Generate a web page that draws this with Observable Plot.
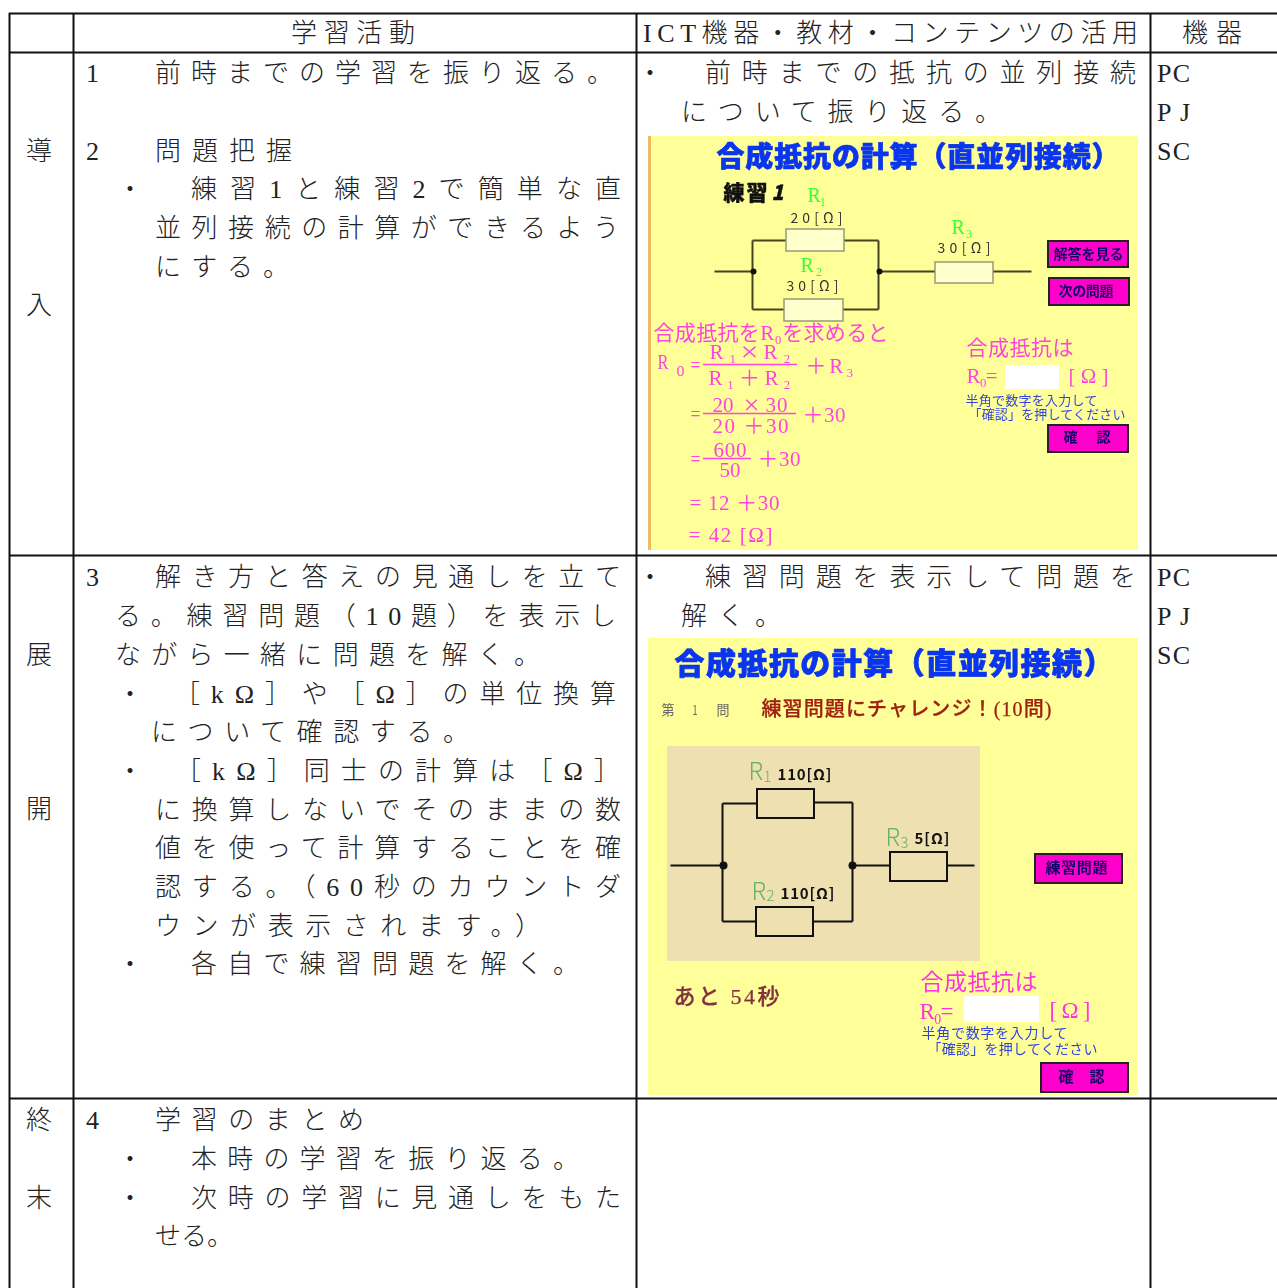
<!DOCTYPE html>
<html><head><meta charset="utf-8">
<script src="https://cdn.jsdelivr.net/npm/d3@7"></script>
<script src="https://cdn.jsdelivr.net/npm/@observablehq/plot@0.6"></script>
<style>
html,body{margin:0;padding:0;background:#fff}
svg{display:block}
.shot{filter:blur(.45px)}
</style></head><body><div id="chart"></div>
<script>
const SERIF='"Liberation Serif","Noto Sans CJK JP",serif';
const SANS='"Noto Sans CJK JP",sans-serif';

// ---- table content ----
const headerTexts=["学習活動","ICT機器・教材・コンテンツの活用","機器"];
const stageTexts=["導","入","展","開","終","末"];
const activityTexts=[
"1","前時までの学習を振り返る。","2","問題把握","・","練習1と練習2で簡単な直","並列接続の計算ができるよう","にする。",
"3","解き方と答えの見通しを立て","る。練習問題（10題）を表示し","ながら一緒に問題を解く。","・","［kΩ］や［Ω］の単位換算","について確認する。","・","［kΩ］同士の計算は［Ω］","に換算しないでそのままの数","値を使って計算することを確","認する。（60秒のカウントダ","ウンが表示されます。）","・","各自で練習問題を解く。",
"4","学習のまとめ","・","本時の学習を振り返る。","・","次時の学習に見通しをもた","せる。"];
const ictTexts=["・","前時までの抵抗の並列接続","について振り返る。","・","練習問題を表示して問題を","解く。"];
const deviceTexts=["PC","PJ","SC","PC","PJ","SC"];

// ---- table layout: [x0, x1, y] of each text above (x1 null = natural width) ----
const gridX=[9,73,636,1150];
const gridY=[13,52,555,1098];
const headerPlace=[[292,416,33],[644,1139,33],[1183,1243,33]];
const stagePlace=[[27,null,151],[27,null,305],[27,null,655],[27,null,809],[27,null,1120],[27,null,1198]];
const activityPlace=[
[87,null,73],[156,614,73],[87,null,151],[156,293,151],[118,null,189],[192,622,189],[156,620,228],[156,290,267],
[87,null,577],[156,622,577],[116,617,616],[116,541,655],[118,null,694],[175,617,694],[152,470,732],[118,null,771],[176,621,771],[156,622,810],[156,622,848],[156,622,887],[156,542,926],[118,null,964],[192,580,964],
[87,null,1120],[156,365,1120],[118,null,1159],[192,580,1159],[118,null,1198],[192,622,1198],[156,234,1236]];
const ictPlace=[[638,null,73],[706,1137,73],[682,1002,112],[638,null,577],[706,1137,577],[682,782,616]];
const devicePlace=[[1158,1191,73],[1158,1191,112],[1158,1191,151],[1158,1191,577],[1158,1191,616],[1158,1191,655]];

// ---- first screenshot (series-parallel exercise) ----
const s1Bg=[[648,136,1138,550,"#ffff99"],[648,136,651,550,"#eebb66"],[1005,365,1059,389,"#ffffff"]];
const s1Title=[["合成抵抗の計算（直並列接続）",716,1119,158]];
const s1Wires=[[714,271,752,271],[752,240,752,309],[752,240,878,240],[752,309,878,309],[878,240,878,309],[878,271,1031,271]];
const s1Nodes=[[753,271],[879,271]];
const s1Resistors=[[786,229,844,251],[784,299,843,321],[935,262,993,283]];
const s1Green=[["R₁",807,826,195],["R₂",800,822,265],["R₃",951,972,227]];
const s1Values=[["20[Ω]",790,842,218],["30[Ω]",786,838,286],["30[Ω]",937,990,248]];
const s1Buttons=[[1048,241,1128,267],[1049,278,1129,305],[1048,425,1128,452]];
const s1ButtonText=[["解答を見る",1053,1123,254],["次の問題",1058,1113,291],["確　認",1063,1110,437]];
const s1Pink=[["合成抵抗をR₀を求めると",653,888,333],["R",657,668,362],["o",676,684,369],["=",690,700,365],["R₁",709,736,352],["R₂",763,790,352],["R₁＋R₂",708,790,378],["＋R₃",805,853,366],
["=",690,700,414],["20",712,733,405],["30",765,787,405],["20 ＋30",712,788,426],["＋30",802,845,415],
["=",690,700,459],["600",713,746,450],["50",719,740,470],["＋30",757,800,459],
["= 12 ＋30",689,779,503],["= 42 [Ω]",688,772,535],
["合成抵抗は",966,1073,348],["R₀=",966,997,376],["[ Ω ]",1068,1108,376]];
const s1Times=[["×",740,758,352],["×",743,759,405]];
const s1Bars=[[703,797,364],[703,796,413],[703,751,458]];
const s1Blue=[["半角で数字を入力して",965,1097,400],["「確認」を押してください",968,1125,414]];
const s1Exercise=[["練習",723,767,193]];
const s1ExerciseNo=[["1",771,783,193]];

// ---- second screenshot (practice question) ----
const s2Bg=[[648,638,1138,1095,"#ffff99"],[667,746,980,961,"#eee0b0"],[964,996,1039,1022,"#ffffff"]];
const s2Title=[["合成抵抗の計算（直並列接続）",674,1113,664]];
const s2Question=[["第",661,674,710],["1",692,697,710],["問",716,729,710]];
const s2Prompt=[["練習問題にチャレンジ！(10問)",761,1051,709]];
const s2Wires=[[670,865,722,865],[722,803,757,803],[814,802,852,802],[722,803,722,921],[852,802,852,921],[722,921,756,921],[813,921,852,921],[852,865,890,865],[947,865,974,865]];
const s2Nodes=[[723,865],[852,865]];
const s2Resistors=[[757,789,814,818],[756,907,813,936],[890,852,947,881]];
const s2Green=[["R",748,null,772],["R",751,null,892],["R",885,null,838]];
const s2GreenSub=[["1",763,null,777],["2",766,null,896],["3",900,null,843]];
const s2Values=[["110[Ω]",777,831,775],["110[Ω]",780,834,894],["5[Ω]",914,949,839]];
const s2Timer=[["あと 54秒",673,779,996]];
const s2Pink=[["合成抵抗は",920,1037,982],["R₀=",919,953,1011],["[ Ω ]",1049,1090,1010]];
const s2Blue=[["半角で数字を入力して",921,1067,1033],["「確認」を押してください",927,1097,1049]];
const s2Buttons=[[1035,854,1122,883],[1041,1063,1128,1092]];
const s2ButtonText=[["練習問題",1045,1107,868],["確　認",1058,1104,1077]];

// ---- helpers ----
const fits=[];
function textMark(rows,opts){
  const cls="fit"+fits.length;
  fits.push({cls,rows});
  const {shot,...rest}=opts;
  return Plot.text(rows,{x:d=>d[1],y:d=>d[3],text:d=>d[0],textAnchor:"start",lineAnchor:"middle",className:cls+(shot?" shot":""),...rest});
}
const zip=(texts,place)=>texts.map((t,i)=>[t,...place[i]]);
const rects=(rows,o)=>Plot.rect(rows,{x1:d=>d[0],y1:d=>d[1],x2:d=>d[2],y2:d=>d[3],className:"shot",...o});
const wires=(rows,o)=>Plot.link(rows,{x1:d=>d[0],y1:d=>d[1],x2:d=>d[2],y2:d=>d[3],className:"shot",...o});
const nodes=(rows,r)=>Plot.dot(rows,{x:d=>d[0],y:d=>d[1],r,fill:"#111",stroke:"none",className:"shot"});
const fills=rows=>rects(rows,{fill:d=>d[4]});

const bodyStyle={fontFamily:SERIF,fontSize:26,fontWeight:300,fill:"#222",dx:-1.5};

const marks=[
  // screenshot 1
  fills(s1Bg),
  textMark(s1Title,{fontFamily:SANS,fontWeight:900,fontSize:28,fill:"#0a35ee",stroke:"#0a35ee",strokeWidth:.7,shot:true}),
  textMark(s1Exercise,{fontFamily:SANS,fontWeight:900,fontSize:21,fill:"#111",stroke:"#111",strokeWidth:.4,shot:true}),
  textMark(s1ExerciseNo,{fontFamily:SANS,fontWeight:900,fontSize:21,fontStyle:"italic",fill:"#111",stroke:"#111",strokeWidth:.4,shot:true}),
  wires(s1Wires,{stroke:"#444422",strokeWidth:2}),
  nodes(s1Nodes,3),
  rects(s1Resistors,{fill:"#ffffcc",stroke:"#999977",strokeWidth:1.5}),
  textMark(s1Green,{fontFamily:SERIF,fontSize:20,fill:"#33ff33",shot:true}),
  textMark(s1Values,{fontFamily:SANS,fontSize:14,fill:"#333",shot:true}),
  rects(s1Buttons,{fill:"#ff00cc",stroke:"#222",strokeWidth:2}),
  textMark(s1ButtonText,{fontFamily:SANS,fontWeight:700,fontSize:14,fill:"#110066",shot:true}),
  textMark(s1Pink,{fontFamily:SERIF,fontSize:21,fill:"#ff44dd",shot:true}),
  textMark(s1Times,{fontFamily:SERIF,fontSize:28,fill:"#ff44dd",shot:true}),
  Plot.ruleY(s1Bars,{x1:d=>d[0],x2:d=>d[1],y:d=>d[2],stroke:"#ff44dd",strokeWidth:1.5,className:"shot"}),
  textMark(s1Blue,{fontFamily:SANS,fontSize:13,fill:"#3344dd",shot:true}),
  // screenshot 2
  fills(s2Bg),
  textMark(s2Title,{fontFamily:SANS,fontWeight:900,fontSize:30,fill:"#0a35ee",stroke:"#0a35ee",strokeWidth:.7,shot:true}),
  textMark(s2Question,{fontFamily:SANS,fontSize:14,fill:"#666",shot:true}),
  textMark(s2Prompt,{fontFamily:SERIF,fontSize:20,fontWeight:500,fill:"#a02010",stroke:"#a02010",strokeWidth:.25,shot:true}),
  wires(s2Wires,{stroke:"#111",strokeWidth:2}),
  nodes(s2Nodes,4),
  rects(s2Resistors,{fill:"none",stroke:"#111",strokeWidth:2}),
  textMark(s2Green,{fontFamily:SANS,fontSize:24,fontWeight:300,fill:"#66b266",shot:true}),
  textMark(s2GreenSub,{fontFamily:SANS,fontSize:15,fontWeight:300,fill:"#66b266",shot:true}),
  textMark(s2Values,{fontFamily:SANS,fontWeight:700,fontSize:15,fill:"#111",shot:true}),
  textMark(s2Timer,{fontFamily:SERIF,fontSize:22,fontWeight:500,fill:"#803040",stroke:"#803040",strokeWidth:.25,shot:true}),
  textMark(s2Pink,{fontFamily:SERIF,fontSize:23,fill:"#ff33dd",shot:true}),
  textMark(s2Blue,{fontFamily:SANS,fontSize:14,fill:"#3344dd",shot:true}),
  rects(s2Buttons,{fill:"#ff00cc",stroke:"#222",strokeWidth:2}),
  textMark(s2ButtonText,{fontFamily:SANS,fontWeight:700,fontSize:15,fill:"#110066",shot:true}),
  // table
  textMark(zip(headerTexts,headerPlace),bodyStyle),
  textMark(zip(stageTexts,stagePlace),bodyStyle),
  textMark(zip(activityTexts,activityPlace),bodyStyle),
  textMark(zip(ictTexts,ictPlace),bodyStyle),
  textMark(zip(deviceTexts,devicePlace),bodyStyle),
  Plot.ruleY(gridY,{x1:gridX[0],x2:1277,stroke:"#111",strokeWidth:2}),
  Plot.ruleX(gridX,{y1:gridY[0],y2:1288,stroke:"#111",strokeWidth:2})
];

const chart=Plot.plot({
  width:1277,height:1288,
  marginTop:0,marginRight:0,marginBottom:0,marginLeft:0,
  x:{domain:[0,1277],range:[0,1277],axis:null},
  y:{domain:[0,1288],range:[0,1288],axis:null},
  style:{background:"#fff"},
  marks
});
const sx=chart.scale("x");
for(const {cls,rows} of fits){
  d3.select(chart).selectAll("g."+cls+" text").each(function(_,i){
    const r=rows[i];
    if(r&&r[2]!=null){
      this.setAttribute("textLength",sx.apply(r[2])-sx.apply(r[1]));
      this.setAttribute("lengthAdjust",r[0].length>1?"spacing":"spacingAndGlyphs");
    }
  });
}
document.getElementById("chart").appendChild(chart);
</script></body></html>
